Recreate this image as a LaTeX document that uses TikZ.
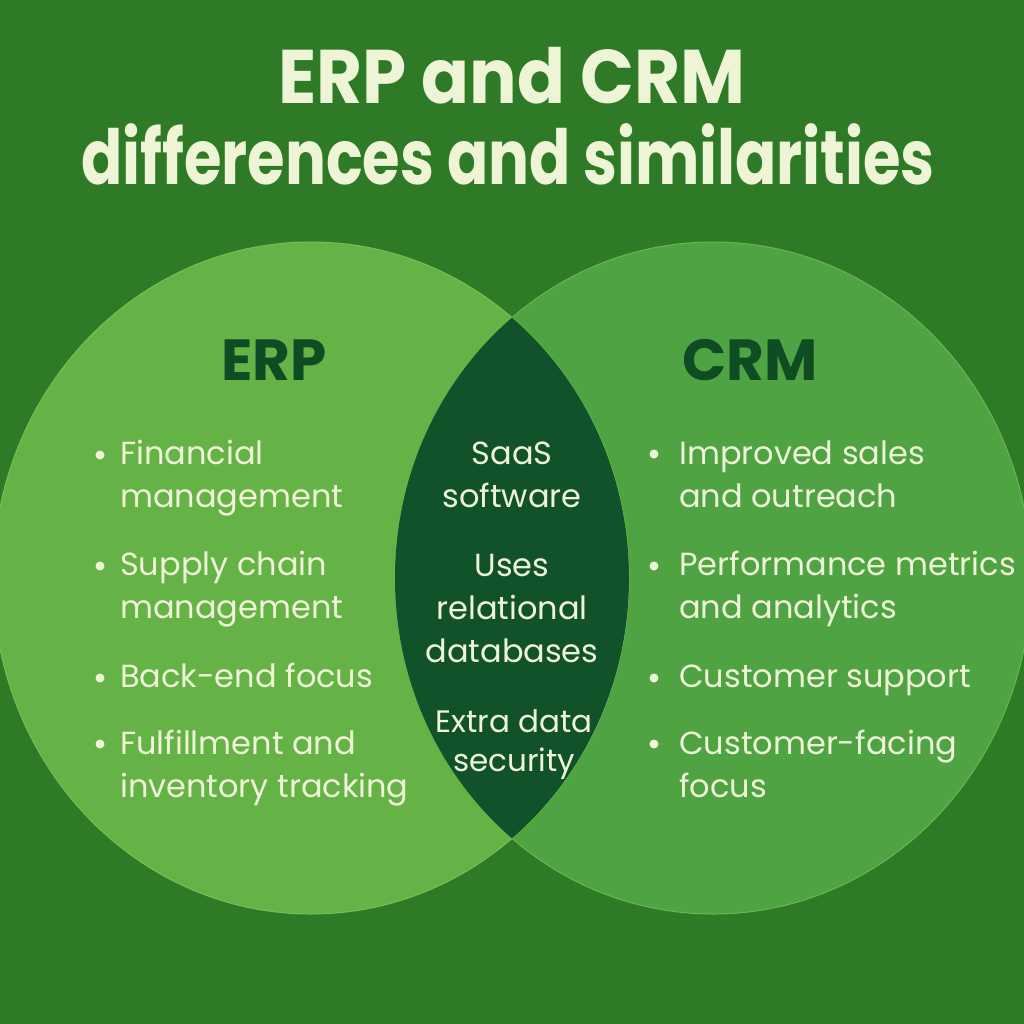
\documentclass[tikz,border=0pt]{standalone}
\usepackage{fontspec}
\setmainfont{Poppins}
\begin{document}
\definecolor{bgGreen}{HTML}{2F7A26}
\definecolor{erpGreen}{HTML}{65B347}
\definecolor{crmGreen}{HTML}{4FA343}
\definecolor{lensGreen}{HTML}{12522A}
\definecolor{rimGreen}{HTML}{74C057}
\definecolor{cream}{HTML}{EEF5D6}
\definecolor{headGreen}{HTML}{0F4C24}
\begin{tikzpicture}[x=1pt,y=-1pt,
  titletext/.style={font=\bfseries\fontsize{76}{80}\selectfont, text=cream, inner sep=0pt, anchor=base},
  headtext/.style={font=\bfseries\fontsize{58}{60}\selectfont, text=headGreen, inner sep=0pt, anchor=base},
  itemtext/.style={font=\fontsize{32}{43}\selectfont, text=cream, inner sep=0pt, anchor=base west, align=left},
  midtext/.style={font=\fontsize{32}{43}\selectfont, text=cream, inner sep=0pt, anchor=base, align=center},
  dot/.style={circle, fill=cream, inner sep=0pt, minimum size=9pt}]
  % canvas
  \fill[bgGreen] (0,0) rectangle (1024,1024);
  \useasboundingbox (0,0) rectangle (1024,1024);

  % the two sets
  \fill[erpGreen] (311,578) ellipse [x radius=318, y radius=336];
  \fill[crmGreen] (713,578) ellipse [x radius=318, y radius=336];
  \draw[rimGreen, line width=1pt] (311,578) ellipse [x radius=318, y radius=336];
  \draw[rimGreen!70!crmGreen, line width=1pt] (713,578) ellipse [x radius=318, y radius=336];
  % shared region
  \begin{scope}
    \clip (311,578) ellipse [x radius=318, y radius=336];
    \fill[lensGreen] (713,578) ellipse [x radius=318, y radius=336];
  \end{scope}

  % title (multi-line nodes sit on the baseline of their last line)
  \node[titletext] (t1) at (512,104) {\scalebox{0.93}[1]{ERP and CRM}};
  \node[titletext] (t2) at (508,185) {\scalebox{0.80}[1]{differences and similarities}};

  % set headings
  \node[headtext] (erp) at (274,380) {ERP};
  \node[headtext] (crm) at (750,380) {CRM};

  % ERP items
  \node[itemtext] (e1) at (120,507) {Financial\\management};
  \node[itemtext] (e2) at (120,618) {Supply chain\\management};
  \node[itemtext] (e3) at (120,687) {Back-end focus};
  \node[itemtext] (e4) at (120,797) {Fulfillment and\\inventory tracking};
  \foreach \y [count=\i] in {455,566,678,744} \node[dot] (ed\i) at (100,\y) {};

  % shared items
  \node[midtext] (m1) at (512,507) {SaaS\\software};
  \node[midtext] (m2) at (512,662) {Uses\\relational\\databases};
  \node[midtext, font=\fontsize{31}{39}\selectfont] (m3) at (514,771) {Extra data\\security};

  % CRM items
  \node[itemtext] (c1) at (679,507) {Improved sales\\and outreach};
  \node[itemtext] (c2) at (679,618) {Performance metrics\\and analytics};
  \node[itemtext] (c3) at (679,687) {Customer support};
  \node[itemtext] (c4) at (679,797) {Customer-facing\\focus};
  \foreach \y [count=\i] in {454,566,678,744} \node[dot] (cd\i) at (654,\y) {};
\end{tikzpicture}
\end{document}
